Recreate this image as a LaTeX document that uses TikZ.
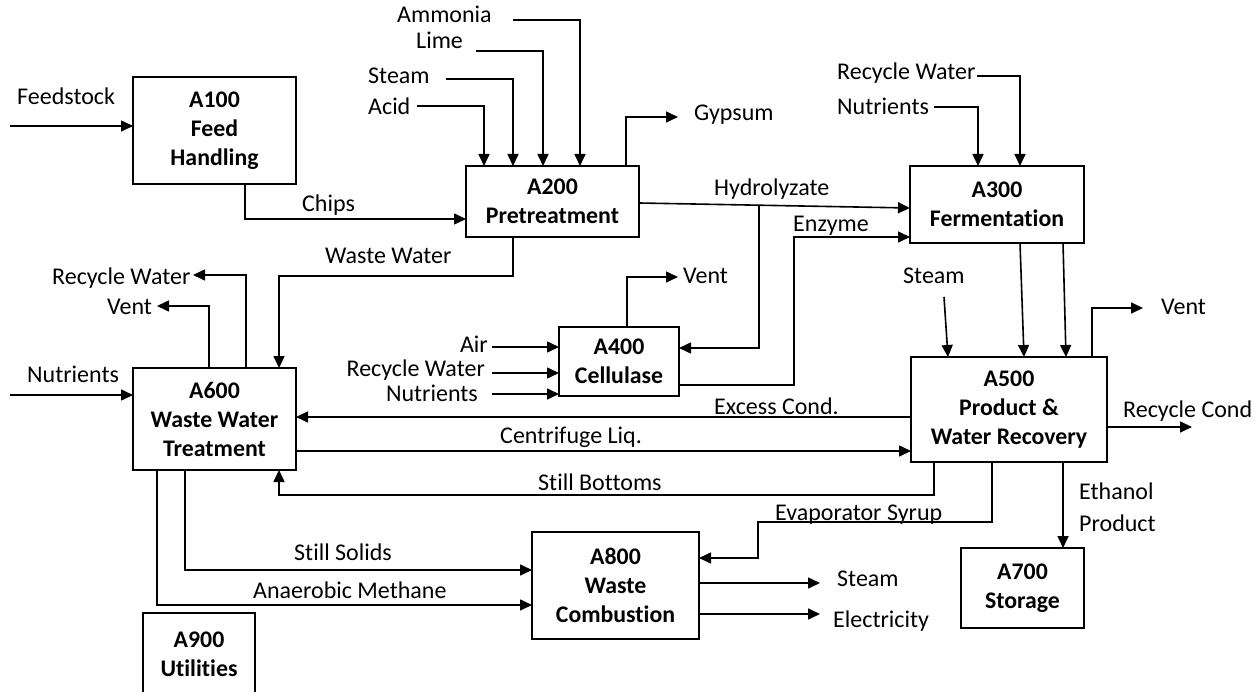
\documentclass[tikz,border=0pt]{standalone}
\usepackage{fontspec}
\setmainfont{Carlito}[Ligatures=NoCommon]
\usetikzlibrary{arrows.meta}
\begin{document}
\begin{tikzpicture}[x=1pt,y=-1pt,
  box/.style={draw, line width=1.6pt, anchor=north west, align=center, inner sep=0pt, outer sep=0pt,
    font=\bfseries\fontsize{23.8}{29}\selectfont},
  lbl/.style={font=\fontsize{24}{28}\selectfont, inner sep=0pt, anchor=base west},
  lblr/.style={lbl, anchor=base east},
  arr/.style={line width=1.6pt, -{Triangle[length=12pt,width=11pt]}}]
\useasboundingbox (0,0) rectangle (1257,692);
\fill[white] (0,0) rectangle (1257,692);
% boxes
\node[box, minimum width=163pt, minimum height=107pt] (A100) at (133,77) {A100\\Feed\\Handling};
\node[box, minimum width=173pt, minimum height=71pt] (A200) at (466,166) {A200\\Pretreatment};
\node[box, minimum width=174pt, minimum height=77pt] (A300) at (910,166) {A300\\Fermentation};
\node[box, minimum width=120pt, minimum height=69pt] (A400) at (559,327) {A400\\Cellulase};
\node[box, minimum width=196pt, minimum height=105pt] (A500) at (911,357) {A500\\Product \&\\Water Recovery};
\node[box, minimum width=163pt, minimum height=102pt] (A600) at (133,368) {A600\\Waste Water\\Treatment};
\node[box, minimum width=123pt, minimum height=80pt] (A700) at (961,548) {A700\\Storage};
\node[box, minimum width=167pt, minimum height=107pt] (A800) at (532,532) {A800\\Waste\\Combustion};
\node[box, minimum width=112pt, minimum height=82pt] (A900) at (143,613) {A900\\Utilities};
% free ends
\coordinate (feedIn) at (10,126);
\coordinate (acidS) at (417,106);
\coordinate (steamS) at (446,79);
\coordinate (limeS) at (476,51);
\coordinate (ammS) at (513,20);
\coordinate (gypE) at (678,117);
\coordinate (hydSplit) at (759,205);
\coordinate (rwS) at (977,76);
\coordinate (nuS) at (934,107);
\coordinate (stS) at (944,297);
\coordinate (ventE5) at (1143,308);
\coordinate (rcE) at (1192,427);
\coordinate (rw6E) at (193,275);
\coordinate (v6E) at (157,306);
\coordinate (nu6S) at (10,395);
\coordinate (airS) at (492,347);
\coordinate (rw4S) at (492,373);
\coordinate (nu4S) at (492,394);
\coordinate (v4E) at (678,277);
\coordinate (st8E) at (820,583);
\coordinate (el8E) at (820,614);
% connectors
\draw[arr] (feedIn) -- (A100.west |- feedIn);
\draw[arr] (245,0 |- A100.south) |- (A200.west |- 0,219);
\draw[arr] (acidS) -| (484,0 |- A200.north);
\draw[arr] (steamS) -| (513,0 |- A200.north);
\draw[arr] (limeS) -| (543,0 |- A200.north);
\draw[arr] (ammS) -| (580,0 |- A200.north);
\draw[arr] (626,0 |- A200.north) |- (gypE);
\draw[arr] (A200.east |- 0,203) -- (A300.west |- 0,208);
\draw[arr] (hydSplit) |- (A400.east |- 0,348);
\draw[arr] (A400.east |- 0,385) -| (794,237) -- (A300.west |- 0,237);
\draw[arr] (rwS) -| (1020,0 |- A300.north);
\draw[arr] (nuS) -| (978,0 |- A300.north);
\draw[arr] (1020,0 |- A300.south) -- (1024,0 |- A500.north);
\draw[arr] (1063,0 |- A300.south) -- (1066,0 |- A500.north);
\draw[arr] (stS) -- (948,0 |- A500.north);
\draw[arr] (1092,0 |- A500.north) |- (ventE5);
\draw[arr] (A500.east |- rcE) -- (rcE);
\draw[arr] (1063,0 |- A500.south) -- (1063,0 |- A700.north);
\draw[arr] (513,0 |- A200.south) |- (279,276) -- (279,0 |- A600.north);
\draw[arr] (246,0 |- A600.north) |- (rw6E);
\draw[arr] (209,0 |- A600.north) |- (v6E);
\draw[arr] (nu6S) -- (A600.west |- nu6S);
\draw[arr] (airS) -- (A400.west |- airS);
\draw[arr] (rw4S) -- (A400.west |- rw4S);
\draw[arr] (nu4S) -- (A400.west |- nu4S);
\draw[arr] (627,0 |- A400.north) |- (v4E);
\draw[arr] (A500.west |- 0,417) -- (A600.east |- 0,417);
\draw[arr] (A600.east |- 0,451) -- (A500.west |- 0,451);
\draw[arr] (934,0 |- A500.south) |- (279,495) -- (279,0 |- A600.south);
\draw[arr] (992,0 |- A500.south) |- (758,522) |- (A800.east |- 0,558);
\draw[arr] (185,0 |- A600.south) |- (A800.west |- 0,570);
\draw[arr] (157,0 |- A600.south) |- (A800.west |- 0,605);
\draw[arr] (A800.east |- st8E) -- (st8E);
\draw[arr] (A800.east |- el8E) -- (el8E);
% labels
\node[lbl] (tFeed) at (17,105) {Feedstock};
\node[lbl] (tChips) at (302,212) {Chips};
\node[lbl] (tAmm) at (397,23) {Ammonia};
\node[lbl] (tLime) at (416,49) {Lime};
\node[lbl] (tSteam2) at (368,84) {Steam};
\node[lbl] (tAcid) at (368,115) {Acid};
\node[lbl] (tGyp) at (694,121) {Gypsum};
\node[lbl] (tHyd) at (714,196) {Hydrolyzate};
\node[lbl] (tEnz) at (793,232) {Enzyme};
\node[lbl] (tRW3) at (837,80) {Recycle Water};
\node[lbl] (tNu3) at (837,115) {Nutrients};
\node[lbl] (tWW) at (325,264) {Waste Water};
\node[lbl] (tRW6) at (52,285) {Recycle Water};
\node[lbl] (tV6) at (107,314) {Vent};
\node[lbl] (tNu6) at (27,382) {Nutrients};
\node[lbl] (tV4) at (683,284) {Vent};
\node[lblr] (tAir) at (488,352) {Air};
\node[lblr] (tRW4) at (485,376) {Recycle Water};
\node[lblr] (tNu4) at (478,401) {Nutrients};
\node[lbl] (tEx) at (714,414) {Excess Cond.};
\node[lbl] (tCen) at (500,443) {Centrifuge Liq.};
\node[lbl] (tSB) at (538,490) {Still Bottoms};
\node[lbl] (tES) at (775,520) {Evaporator Syrup};
\node[lbl] (tSS) at (294,560) {Still Solids};
\node[lbl] (tAM) at (253,598) {Anaerobic Methane};
\node[lbl] (tSt8) at (837,586) {Steam};
\node[lbl] (tEl) at (833,627) {Electricity};
\node[lbl] (tSt5) at (903,284) {Steam};
\node[lbl] (tV5) at (1161,314) {Vent};
\node[lbl] (tRC) at (1123,417) {Recycle Cond};
\node[lbl] (tEth) at (1079,499) {Ethanol};
\node[lbl] (tProd) at (1079,531) {Product};
\end{tikzpicture}
\end{document}
